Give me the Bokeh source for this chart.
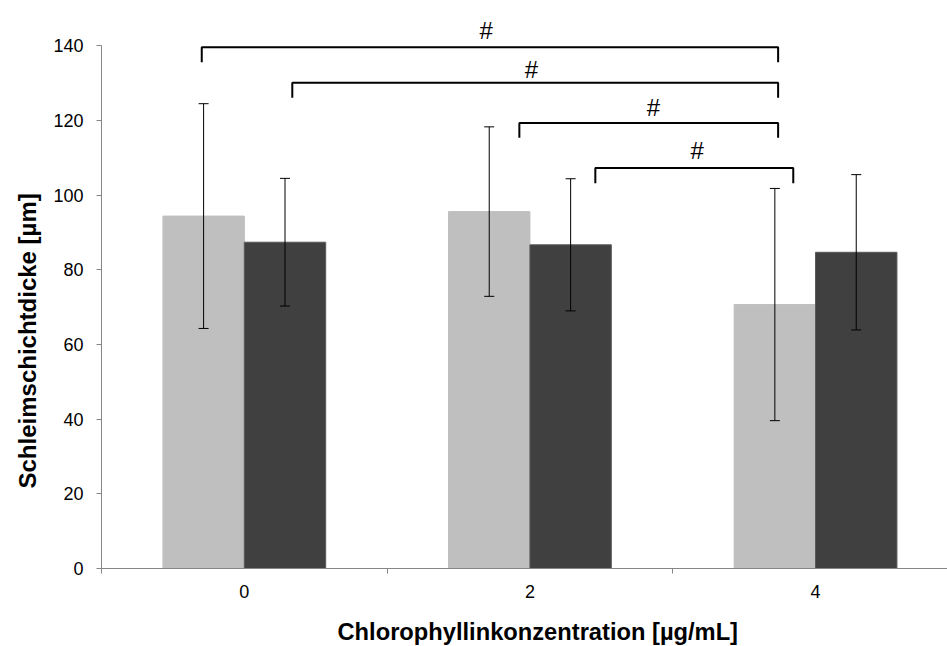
from bokeh.plotting import figure
from bokeh.models import (ColumnDataSource, Whisker, TeeHead, FixedTicker, Title,
                          Range1d, LinearAxis)
from bokeh.core.properties import value
from bokeh.embed import file_html
from bokeh.resources import INLINE

# ---- data ----
categories = ["0", "2", "4"]
light_means = [94.4, 95.6, 70.7]
light_sd = [30.1, 22.7, 31.1]
dark_means = [87.4, 86.7, 84.7]
dark_sd = [17.1, 17.7, 20.8]
y_ticks = [0, 20, 40, 60, 80, 100, 120, 140]

# significance brackets (x in category-index units, y in µm)
br_x0 = [-0.149, 0.168, 0.963, 1.229]
br_x1 = [1.869, 1.869, 1.869, 1.922]
br_top = [139.6, 130.1, 119.3, 107.3]
br_bottom = [135.6, 126.1, 115.4, 103.2]
br_label_x = [0.847, 1.005, 1.432, 1.586]
br_label_y = [144.1, 133.6, 123.4, 111.9]
br_labels = ["#", "#", "#", "#"]

x_title = "Chlorophyllinkonzentration [µg/mL]"
y_title = "Schleimschichtdicke [µm]"

FONT = "Liberation Sans"
LIGHT = "#BFBFBF"
DARK = "#404040"
AXIS_GRAY = "#868686"

bar_w = 0.285
off = 0.1425
idx = list(range(len(categories)))

p = figure(width=947, height=646, output_backend="svg", toolbar_location=None,
           x_range=Range1d(-0.5, 2.462), y_range=Range1d(0, 150),
           min_border_left=101, min_border_right=0, min_border_top=8,
           min_border_bottom=78, x_axis_type=None, y_axis_type=None)
p.outline_line_color = None
p.xgrid.visible = False
p.ygrid.visible = False
p.background_fill_color = "white"
p.border_fill_color = "white"

light_src = ColumnDataSource(dict(
    x=[i - off for i in idx], top=light_means,
    upper=[m + s for m, s in zip(light_means, light_sd)],
    lower=[m - s for m, s in zip(light_means, light_sd)]))
dark_src = ColumnDataSource(dict(
    x=[i + off for i in idx], top=dark_means,
    upper=[m + s for m, s in zip(dark_means, dark_sd)],
    lower=[m - s for m, s in zip(dark_means, dark_sd)]))

p.vbar(x="x", top="top", width=bar_w, source=light_src, fill_color=LIGHT,
       line_color=LIGHT)
p.vbar(x="x", top="top", width=bar_w, source=dark_src, fill_color=DARK,
       line_color="#595959", line_width=1)

for src in (light_src, dark_src):
    w = Whisker(base="x", upper="upper", lower="lower", source=src,
                line_color="black", line_width=1, level="annotation",
                upper_head=TeeHead(size=10, line_color="black", line_width=1),
                lower_head=TeeHead(size=10, line_color="black", line_width=1))
    p.add_layout(w)

# brackets
xs, ys = [], []
for x0, x1, yt, yb in zip(br_x0, br_x1, br_top, br_bottom):
    xs.append([x0, x0, x1, x1])
    ys.append([yb, yt, yt, yb])
p.multi_line(xs=xs, ys=ys, line_color="black", line_width=2)
p.text(x=br_label_x, y=br_label_y, text=br_labels, text_align="center",
       text_baseline="middle", text_font=value(FONT), text_font_size="24px",
       text_color="black")

# y axis
yax = LinearAxis(ticker=FixedTicker(ticks=y_ticks), bounds=(0, 140))
yax.axis_line_color = AXIS_GRAY
yax.major_tick_line_color = AXIS_GRAY
yax.major_tick_out = 5
yax.major_tick_in = 0
yax.minor_tick_line_color = None
yax.major_label_text_font = FONT
yax.major_label_text_font_size = "18px"
yax.major_label_text_color = "black"
yax.major_label_standoff = 13
p.add_layout(yax, "left")

# x axis
xax = LinearAxis(ticker=FixedTicker(ticks=idx, minor_ticks=[-0.5, 0.5, 1.5, 2.5]))
xax.major_label_overrides = {i: c for i, c in zip(idx, categories)}
xax.axis_line_color = AXIS_GRAY
xax.major_tick_line_color = None
xax.major_tick_out = 0
xax.major_tick_in = 0
xax.minor_tick_line_color = AXIS_GRAY
xax.minor_tick_out = 5
xax.minor_tick_in = 0
xax.major_label_text_font = FONT
xax.major_label_text_font_size = "18px"
xax.major_label_text_color = "black"
xax.major_label_standoff = 11
# invisible spacer below the tick labels
xax.axis_label = " "
xax.axis_label_text_font_size = "10px"
xax.axis_label_standoff = 0
p.add_layout(xax, "below")

# axis titles
p.add_layout(Title(text=y_title, align="left", offset=80, text_font=FONT,
                   text_font_size="24px", text_font_style="bold",
                   text_color="black", standoff=20), "left")
p.add_layout(Title(text=x_title, align="left", offset=236, text_font=FONT,
                   text_font_size="23.7px", text_font_style="bold",
                   text_color="black", standoff=4), "below")

open("out.html", "w").write(file_html(p, INLINE))
